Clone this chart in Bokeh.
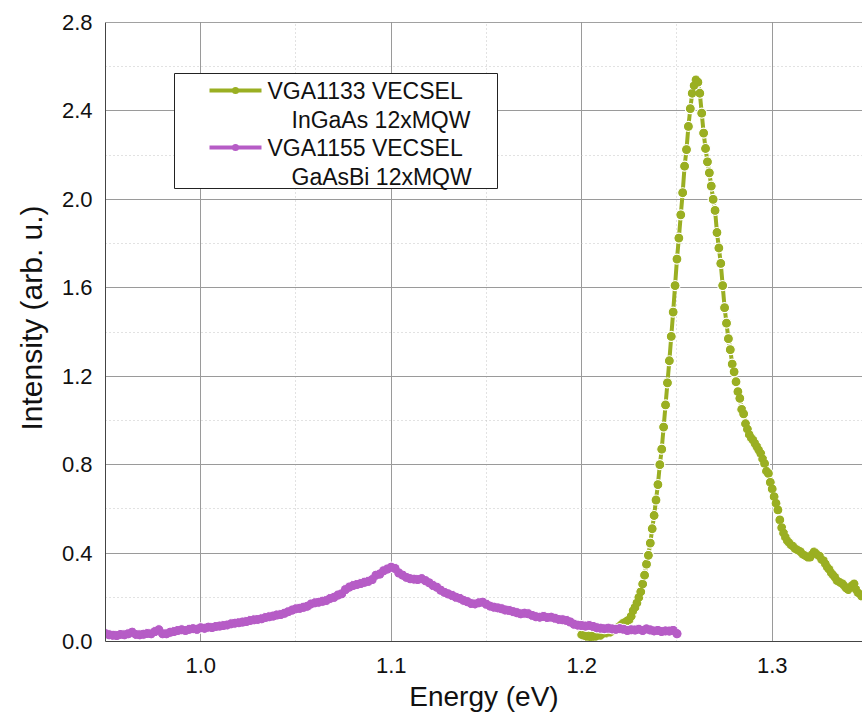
import numpy as np
from bokeh.plotting import figure
from bokeh.models import FixedTicker, PrintfTickFormatter, Span, Range1d, Title
from bokeh.core.properties import value
from bokeh.embed import file_html
from bokeh.resources import INLINE

# ---------------- data ----------------
series_names = ["VGA1133 VECSEL", "VGA1155 VECSEL"]
series_sub = ["InGaAs 12xMQW", "GaAsBi 12xMQW"]
series_colors = ["#9aaf22", "#b65cc6"]

# InGaAs VECSEL spectrum, energies 1.200 .. 1.350 eV (0.001 eV step)
ingaas_start, ingaas_step = 1.200, 0.001
ingaas_int = [
    0.030, 0.027, 0.025, 0.022, 0.025, 0.020, 0.027, 0.022, 0.025, 0.030,
    0.028, 0.035, 0.042, 0.038, 0.045, 0.042, 0.050, 0.052, 0.058, 0.065,
    0.070, 0.078, 0.085, 0.088, 0.095, 0.100, 0.115, 0.140, 0.155, 0.175,
    0.200, 0.225, 0.260, 0.300, 0.350, 0.390, 0.445, 0.510, 0.570, 0.640,
    0.710, 0.800, 0.870, 0.970, 1.070, 1.170, 1.270, 1.380, 1.490, 1.610,
    1.730, 1.825, 1.930, 2.030, 2.150, 2.225, 2.330, 2.410, 2.480, 2.515,
    2.540, 2.530, 2.480, 2.390, 2.300, 2.230, 2.170, 2.120, 2.060, 2.000,
    1.950, 1.850, 1.780, 1.710, 1.610, 1.510, 1.440, 1.370, 1.320, 1.255,
    1.220, 1.175, 1.130, 1.100, 1.050, 1.030, 0.985, 0.960, 0.935, 0.920,
    0.910, 0.895, 0.880, 0.865, 0.850, 0.825, 0.805, 0.770, 0.760, 0.720,
    0.690, 0.655, 0.625, 0.595, 0.550, 0.515, 0.490, 0.470, 0.455, 0.445,
    0.435, 0.430, 0.420, 0.415, 0.410, 0.405, 0.395, 0.390, 0.385, 0.380,
    0.382, 0.395, 0.405, 0.398, 0.390, 0.385, 0.370, 0.365, 0.350, 0.335,
    0.325, 0.310, 0.300, 0.290, 0.275, 0.270, 0.265, 0.260, 0.250, 0.240,
    0.235, 0.245, 0.255, 0.260, 0.235, 0.220, 0.215, 0.205, 0.210, 0.200,
    0.190,
]

# GaAsBi VECSEL spectrum, energies 0.950 .. 1.250 eV (0.002 eV step)
gaasbi_start, gaasbi_step = 0.950, 0.002
gaasbi_int = [
    0.035, 0.030, 0.028, 0.027, 0.032, 0.030, 0.035, 0.042, 0.032, 0.030,
    0.033, 0.036, 0.035, 0.045, 0.053, 0.035, 0.035, 0.042, 0.045, 0.050,
    0.053, 0.050, 0.055, 0.058, 0.055, 0.062, 0.060, 0.065, 0.063, 0.068,
    0.070, 0.072, 0.075, 0.080, 0.083, 0.085, 0.088, 0.090, 0.095, 0.098,
    0.100, 0.103, 0.108, 0.112, 0.115, 0.120, 0.122, 0.128, 0.135, 0.142,
    0.148, 0.150, 0.155, 0.160, 0.170, 0.175, 0.178, 0.182, 0.186, 0.195,
    0.200, 0.210, 0.216, 0.235, 0.246, 0.253, 0.258, 0.262, 0.268, 0.272,
    0.280, 0.300, 0.305, 0.320, 0.328, 0.336, 0.330, 0.310, 0.300, 0.290,
    0.284, 0.282, 0.280, 0.284, 0.275, 0.265, 0.253, 0.245, 0.232, 0.222,
    0.215, 0.208, 0.200, 0.195, 0.186, 0.180, 0.172, 0.170, 0.175, 0.178,
    0.168, 0.160, 0.155, 0.152, 0.148, 0.142, 0.140, 0.135, 0.130, 0.125,
    0.128, 0.125, 0.118, 0.112, 0.110, 0.113, 0.108, 0.110, 0.105, 0.100,
    0.098, 0.095, 0.088, 0.078, 0.074, 0.072, 0.070, 0.072, 0.068, 0.062,
    0.060, 0.058, 0.060, 0.057, 0.055, 0.058, 0.055, 0.050, 0.053, 0.052,
    0.055, 0.050, 0.057, 0.052, 0.048, 0.050, 0.045, 0.048, 0.047, 0.050,
    0.035,
]

x_ticks = [1.0, 1.1, 1.2, 1.3]
x_minor = [0.95, 1.05, 1.15, 1.25, 1.35]
y_ticks = [0.0, 0.4, 0.8, 1.2, 1.6, 2.0, 2.4, 2.8]
y_minor = [0.2, 0.6, 1.0, 1.4, 1.8, 2.2, 2.6]

ingaas_e = np.round(ingaas_start + ingaas_step * np.arange(len(ingaas_int)), 4)
gaasbi_e = np.round(gaasbi_start + gaasbi_step * np.arange(len(gaasbi_int)), 4)

# ---------------- layout ----------------
W, H = 862, 715
FL, FR, FT, FB = 105, 862, 22, 641
X0, X1 = 0.95, 1.3474
Y0, Y1 = 0.0, 2.8
FONT = value("Liberation Sans")

def px_x(px):
    return X0 + (px - FL) * (X1 - X0) / (FR - FL)

def px_y(py):
    return Y0 + (FB - py) * (Y1 - Y0) / (FB - FT)

p = figure(width=W, height=H, x_range=Range1d(X0, X1), y_range=Range1d(Y0, Y1),
           output_backend="svg", toolbar_location=None,
           min_border_left=FL, min_border_right=W - FR,
           min_border_top=FT, min_border_bottom=H - FB)
p.outline_line_color = None
p.background_fill_color = "white"
p.border_fill_color = "white"

p.xaxis.ticker = FixedTicker(ticks=x_ticks, minor_ticks=x_minor)
p.yaxis.ticker = FixedTicker(ticks=y_ticks, minor_ticks=y_minor)
p.xaxis.formatter = PrintfTickFormatter(format="%.1f")
p.yaxis.formatter = PrintfTickFormatter(format="%.1f")

for ax in (p.xaxis, p.yaxis):
    ax.axis_line_color = "#444444"
    ax.axis_line_width = 1
    ax.major_tick_line_color = None
    ax.minor_tick_line_color = None
    ax.major_label_text_font = "Liberation Sans"
    ax.major_label_text_font_size = "22px"
    ax.major_label_text_color = "#111111"
    ax.axis_label_text_font = "Liberation Sans"
    ax.axis_label_text_font_size = "28px"
    ax.axis_label_text_font_style = "normal"
    ax.axis_label_text_color = "#111111"

p.xaxis.axis_label = "Energy (eV)"
p.xaxis.major_label_standoff = 10
p.yaxis.major_label_standoff = 7
p.xaxis.axis_label_standoff = 5

p.add_layout(Title(text="Intensity (arb. u.)", align="left", offset=211,
                   text_font="Liberation Sans", text_font_size="30px",
                   text_font_style="normal", text_color="#111111",
                   standoff=22), "left")

for g in (p.xgrid, p.ygrid):
    g.grid_line_color = "#9a9a9a"
    g.grid_line_width = 1
    g.minor_grid_line_color = "#c4c4c4"
    g.minor_grid_line_dash = "1 3"
    g.minor_grid_line_width = 1

p.add_layout(Span(location=Y1, dimension="width", line_color="#444444", line_width=1))

# ---------------- series ----------------
styles = [(4, 10, 8), (5, 10, 9)]
for (e, inten, col), (lw, s1, s2) in zip(((ingaas_e, ingaas_int, series_colors[0]),
                                          (gaasbi_e, gaasbi_int, series_colors[1])), styles):
    p.line(e, inten, line_color=col, line_width=lw)
    p.scatter(e, inten, size=s1, fill_color=col, line_color="white", line_width=1.2)
    p.scatter(e, inten, size=s2, fill_color=col, line_color=None)

# ---------------- legend (drawn manually) ----------------
p.quad(left=[px_x(174)], right=[px_x(497)], top=[px_y(73)], bottom=[px_y(188)],
       fill_color="white", line_color="#222222", line_width=1)
row_y = [90, 147]
for i in range(2):
    yy = px_y(row_y[i])
    p.line([px_x(209), px_x(261)], [yy, yy], line_color=series_colors[i], line_width=4)
    p.scatter([px_x(235)], [yy], size=7, fill_color=series_colors[i], line_color=None)
    p.text([px_x(267)], [yy], text=[series_names[i]], text_font=FONT,
           text_font_size="23px", text_baseline="middle", text_align="left",
           text_color="#111111")
    p.text([px_x(291)], [px_y(row_y[i] + 29.5)], text=[series_sub[i]], text_font=FONT,
           text_font_size="23px", text_baseline="middle", text_align="left",
           text_color="#111111")

open("out.html", "w").write(file_html(p, INLINE))
